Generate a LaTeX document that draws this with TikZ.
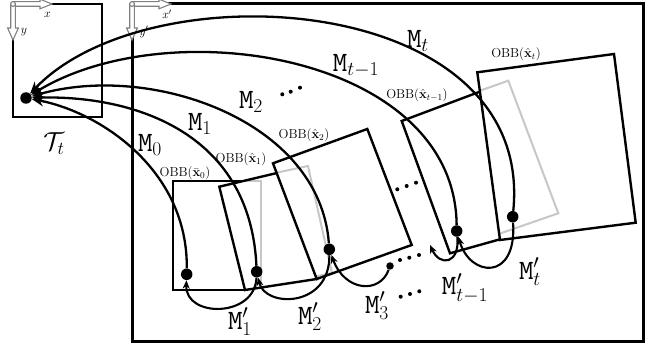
\RequirePackage{fix-cm}
\documentclass[tikz,border=0pt]{standalone}
\usepackage{amsmath}
\usetikzlibrary{arrows.meta}
\begin{document}
\begin{tikzpicture}[x=1pt,y=-1pt,
  frame/.style={draw=black, line width=2.4pt},
  obb/.style={draw=black, line width=2.4pt, line join=miter},
  ghost/.style={draw=black!22, line width=2pt},
  bigdot/.style={circle, fill=black, inner sep=0pt, minimum size=11.5pt},
  smalldot/.style={circle, fill=black, inner sep=0pt, minimum size=7.5pt},
  mcurve/.style={line width=2.3pt, -{Stealth[length=12pt,width=10pt]}},
  mpcurve/.style={line width=2.1pt, -{Stealth[length=8.5pt,width=7pt]}},
  mlabel/.style={font=\fontsize{28}{32}\selectfont, inner sep=0pt},
  obblabel/.style={font=\fontsize{13}{15}\selectfont, inner sep=0pt},
  axlabel/.style={font=\fontsize{12}{14}\selectfont, inner sep=0pt},
  axarrow/.style={fill=white, draw=black!50, line width=1.1pt},
  axes/.pic={
    \path[axarrow] (0,-2.3) -- (27,-2.3) -- (27,-4.8) -- (39,0) -- (27,4.8) -- (27,2.3) -- (0,2.3) -- cycle;
    \path[axarrow] (-2.3,0) -- (-2.3,24) -- (-5.4,24) -- (0,36) -- (5.4,24) -- (2.3,24) -- (2.3,0) -- cycle;
    \path[axarrow] (0,0) circle (2.4);
  }
]
\useasboundingbox (0,0) rectangle (665,350);

% frames
\draw[frame] (13,4) rectangle (102,117);
\draw[frame, line width=3pt] (132,4) rectangle (643,341);

% box 0
\fill[white] (173,181) rectangle (247,290);
\draw[obb] (173,181) rectangle (247,290);

% box 1
\fill[white] (219.3,186.7) -- (298,168) -- (316.7,279) -- (245,290) -- cycle;
\begin{scope}
  \clip (219.3,186.7) -- (298,168) -- (316.7,279) -- (245,290) -- cycle;
  \draw[ghost] (185,181) rectangle (261,290);
\end{scope}
\draw[obb] (219.3,186.7) -- (298,168) -- (316.7,279) -- (245,290) -- cycle;

% box 2
\fill[white] (273,163.3) -- (367.3,129) -- (411.7,245) -- (316.7,279) -- cycle;
\begin{scope}
  \clip (273,163.3) -- (367.3,129) -- (411.7,245) -- (316.7,279) -- cycle;
  \draw[ghost] (228,183) -- (308,166) -- (332,273) -- (252,290) -- cycle;
\end{scope}
\draw[obb] (273,163.3) -- (367.3,129) -- (411.7,245) -- (316.7,279) -- cycle;

% box t-1
\fill[white] (401.7,121) -- (495,86) -- (545,226.7) -- (450,253.3) -- cycle;
\draw[obb] (401.7,121) -- (495,86) -- (545,226.7) -- (450,253.3) -- cycle;

% box t
\fill[white] (477.3,72.3) -- (614,54) -- (635.7,222.7) -- (500,240) -- cycle;
\begin{scope}
  \clip (477.3,72.3) -- (614,54) -- (635.7,222.7) -- (500,240) -- cycle;
  \draw[ghost] (414,114) -- (508.3,80.7) -- (558.3,213.3) -- (464,246) -- cycle;
\end{scope}
\draw[obb] (477.3,72.3) -- (614,54) -- (635.7,222.7) -- (500,240) -- cycle;

% axes
\pic at (13,4) {axes};
\pic at (132,4) {axes};
\node[axlabel] (ax) at (47.5,14.5) {$x$};
\node[axlabel] (ay) at (24,32) {$y$};
\node[axlabel] (axp) at (167,14) {$x'$};
\node[axlabel] (ayp) at (144,32) {$y'$};

% dots
\node[bigdot] (dT) at (26,98) {};
\node[bigdot] (d0) at (186.7,274.3) {};
\node[bigdot] (d1) at (256.7,271.7) {};
\node[bigdot] (d2) at (329.3,249.3) {};
\node[smalldot] (d3) at (390,266) {};
\node[bigdot] (dtm) at (456.7,231) {};
\node[bigdot] (dt) at (512.7,216.7) {};
\coordinate (free) at (430,245);

% M curves
\draw[mcurve] (d0) .. controls (188,170) and (100,112) .. (dT);
\draw[mcurve] (d1) .. controls (250,130) and (130,95) .. (dT);
\draw[mcurve] (d2) .. controls (320,120) and (150,62) .. (dT);
\draw[mcurve] (dtm) .. controls (455,55) and (170,10) .. (dT);
\draw[mcurve] (dt) .. controls (535,-8) and (150,-32) .. (dT);

% M' curves
\draw[mpcurve] (d1) .. controls (255,318) and (185,318) .. (d0);
\draw[mpcurve] (d2) .. controls (330,308) and (265,308) .. (d1);
\draw[mpcurve] (d3) .. controls (380,294) and (345,292) .. (d2);
\draw[mpcurve] (dtm) .. controls (460,264) and (440,267) .. (free);
\draw[mpcurve] (dt) .. controls (517,282) and (470,277) .. (dtm);

% ellipsis dots
\foreach \p in {(282.3,94.3),(290.7,91.7),(300,87.7),
                (397.3,189.3),(406.7,186),(416,182.7),
                (400,260),(409.3,257.7),(419,255),
                (400.7,296.7),(410,294),(419.3,291.3)}
  \fill \p circle (2);

% labels
\node[font=\fontsize{26}{30}\selectfont, inner sep=0pt] (lT) at (54,144) {$\mathcal{T}_t$};
\node[mlabel] (lM0) at (150,145) {$\mathtt{M}_0$};
\node[mlabel] (lM1) at (200,124) {$\mathtt{M}_1$};
\node[mlabel] (lM2) at (251,102) {$\mathtt{M}_2$};
\node[mlabel] (lMtm) at (356,66) {$\mathtt{M}_{t-1}$};
\node[mlabel] (lMt) at (418,41) {$\mathtt{M}_t$};
\node[mlabel] (lP1) at (240,322) {$\mathtt{M}'_1$};
\node[mlabel] (lP2) at (310,317) {$\mathtt{M}'_2$};
\node[mlabel] (lP3) at (377,306) {$\mathtt{M}'_3$};
\node[mlabel] (lPtm) at (465,288) {$\mathtt{M}'_{t-1}$};
\node[mlabel] (lPt) at (530,272) {$\mathtt{M}'_t$};

\node[obblabel] (o0) at (185,173) {$\mathrm{OBB}(\bar{\mathbf{x}}_0)$};
\node[obblabel] (o1) at (241,159) {$\mathrm{OBB}(\hat{\mathbf{x}}_1)$};
\node[obblabel] (o2) at (304,135) {$\mathrm{OBB}(\hat{\mathbf{x}}_2)$};
\node[obblabel] (otm) at (417,95) {$\mathrm{OBB}(\hat{\mathbf{x}}_{t-1})$};
\node[obblabel] (ot) at (516,54) {$\mathrm{OBB}(\hat{\mathbf{x}}_t)$};
\end{tikzpicture}
\end{document}
